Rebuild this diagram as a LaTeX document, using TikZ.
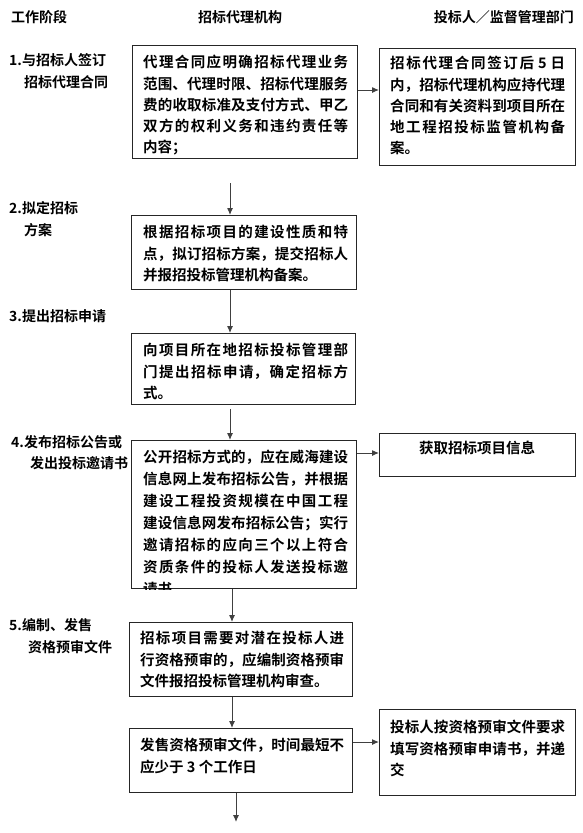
\documentclass[tikz,border=0pt]{standalone}
\usepackage{fontspec}
\newfontfamily\cjk{Noto Sans CJK SC}[BoldFont={Noto Sans CJK SC Bold}]
\usetikzlibrary{arrows.meta}
\XeTeXlinebreaklocale "zh"
\XeTeXlinebreakskip=0pt plus 4pt
\begin{document}
\begin{tikzpicture}[x=1pt,y=-1pt,
  box/.style={draw=black!85, line width=1.1pt, inner sep=0pt, anchor=north west},
  txt/.style={anchor=north west, inner sep=0pt, align=justify, font=\cjk\bfseries\fontsize{14.5}{21.3}\selectfont},
  lbl/.style={anchor=west, inner sep=0pt, font=\cjk\bfseries\fontsize{14}{17}\selectfont},
  arr/.style={draw=black!75, line width=1pt, -{Latex[length=7pt,width=6pt]}},
]
\newcommand{\st}{\rule{0pt}{13.5pt}}
\useasboundingbox[fill=white] (0,0) rectangle (582,833);

% headers
\node[lbl] (h1) at (11,17) {工作阶段};
\node[lbl,anchor=center] (h2) at (240,17) {招标代理机构};
\node[lbl,anchor=east] (h3) at (574,17) {投标人／监督管理部门};

% stage labels
\node[lbl] (l1a) at (9,60) {1.与招标人签订};
\node[lbl] (l1b) at (24,82) {招标代理合同};
\node[lbl] (l2a) at (9,208) {2.拟定招标};
\node[lbl] (l2b) at (24,230) {方案};
\node[lbl] (l3a) at (9,316) {3.提出招标申请};
\node[lbl] (l4a) at (11,442) {4.发布招标公告或};
\node[lbl] (l4b) at (30,463) {发出投标邀请书};
\node[lbl] (l5a) at (9,625) {5.编制、发售};
\node[lbl] (l5b) at (28,647) {资格预审文件};

% boxes
\node[box, minimum width=225pt, minimum height=113pt] (a1) at (132,45) {};
\node[box, minimum width=196pt, minimum height=117pt] (b1) at (379,48) {};
\node[box, minimum width=225pt, minimum height=74pt] (a2) at (131,215) {};
\node[box, minimum width=224pt, minimum height=71pt] (a3) at (131,333) {};
\node[box, minimum width=225pt, minimum height=148pt] (a4) at (131,440) {};
\node[box, minimum width=196pt, minimum height=43pt] (b4) at (379,433) {};
\node[box, minimum width=223pt, minimum height=74pt] (a5) at (129,622) {};
\node[box, minimum width=223pt, minimum height=64pt] (a6) at (129,728) {};
\node[box, minimum width=196pt, minimum height=86pt] (b6) at (379,709) {};

% texts
\node[txt, text width=205pt] (a1t) at (143,54) {\st 代理合同应明确招标代理业务\linebreak 范围、代理时限、招标代理服务\linebreak 费的收取标准及支付方式、甲乙\linebreak 双方的权利义务和违约责任等\linebreak 内容；};
\node[txt, text width=175pt] (b1t) at (390,55) {\st 招标代理合同签订后 5 日\linebreak 内，招标代理机构应持代理\linebreak 合同和有关资料到项目所在\linebreak 地工程招投标监管机构备\linebreak 案。};
\node[txt, text width=205pt] (a2t) at (143,224) {\st 根据招标项目的建设性质和特\linebreak 点，拟订招标方案，提交招标人\linebreak 并报招投标管理机构备案。};
\node[txt, text width=205pt] (a3t) at (143,342) {\st 向项目所在地招标投标管理部\linebreak 门提出招标申请，确定招标方\linebreak 式。};
\begin{scope}
\clip (a4.north west) rectangle (a4.south east);
\node[txt, text width=205pt, font=\cjk\bfseries\fontsize{14.5}{22}\selectfont] (a4t) at (143,449) {\st 公开招标方式的，应在威海建设\linebreak 信息网上发布招标公告，并根据\linebreak 建设工程投资规模在中国工程\linebreak 建设信息网发布招标公告；实行\linebreak 邀请招标的应向三个以上符合\linebreak 资质条件的投标人发送投标邀\linebreak 请书};
\end{scope}
\node[lbl, anchor=center, font=\cjk\bfseries\fontsize{14.5}{17}\selectfont] (b4t) at (477,448) {获取招标项目信息};
\node[txt, text width=204pt] (a5t) at (140,630) {\st 招标项目需要对潜在投标人进\linebreak 行资格预审的，应编制资格预审\linebreak 文件报招投标管理机构审查。};
\node[txt, text width=204pt] (a6t) at (140,737) {\st 发售资格预审文件，时间最短不\linebreak 应少于 3 个工作日};
\node[txt, text width=175pt] (b6t) at (390,719) {\st 投标人按资格预审文件要求\linebreak 填写资格预审申请书，并递\linebreak 交};

% connectors
\coordinate (c1) at (230,183);
\coordinate (c2) at (232,600);
\coordinate (c3) at (236,822);
\draw[arr] (a1.east |- 0,90) -- (b1.west |- 0,90);
\draw[arr] (c1) -- (c1 |- a2.north);
\draw[arr] (a2.south -| c1) -- (a3.north -| c1);
\draw[arr] ([yshift=-4pt]a3.south -| c1) -- (a4.north -| c1);
\draw[arr] (a4.east |- 0,453) -- (b4.west |- 0,453);
\draw[arr] (a4.south -| c2) -- (a5.north -| c2);
\draw[arr] (a5.south -| c2) -- (a6.north -| c2);
\draw[arr] (a6.east |- 0,742) -- (b6.west |- 0,742);
\draw[arr] (a6.south -| c3) -- (c3);
\end{tikzpicture}
\end{document}
